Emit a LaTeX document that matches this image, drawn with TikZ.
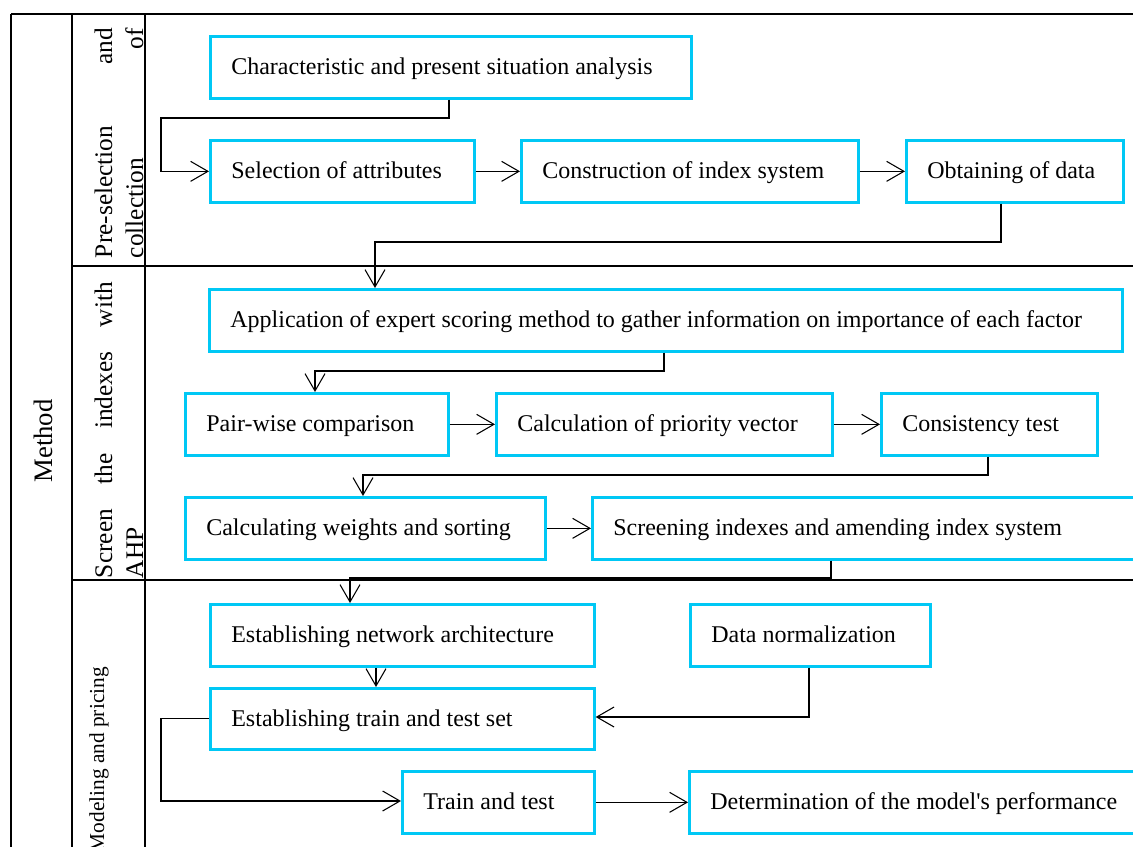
\documentclass[tikz,border=0pt]{standalone}
\usepackage{fontspec}
\setmainfont{Liberation Serif}
\usetikzlibrary{arrows.meta}
\definecolor{boxcyan}{RGB}{0,200,245}
\newlength\upx \setlength\upx{0.75pt}
\newcommand{\bx}[6]{%
  \node[bx, minimum width=#4\upx, minimum height=#5\upx] (#1) at (#2,#3)
    {\makebox[#4\upx][l]{\hspace{21\upx}#6}};}
\begin{document}
\begin{tikzpicture}[x=0.75pt,y=-0.75pt,
  bx/.style={draw=boxcyan, line width=2pt, inner sep=0pt, anchor=north west,
    text height=11.25pt, text depth=0pt,
    font=\fontsize{18}{21}\selectfont},
  conn/.style={draw=black, line width=0.9pt,
    -{Straight Barb[length=13pt,width=15pt,line width=0.8pt]}},
  tbl/.style={line width=2pt},
  lab/.style={rotate=90, inner sep=0pt, anchor=base, font=\fontsize{19}{23}\selectfont}]
\useasboundingbox (0,0) rectangle (1133,847);
\clip (0,0) rectangle (1133,847);
% table
\draw[tbl] (11,14) -- (1133,14);
\draw[tbl] (11,14) -- (11,860);
\draw[tbl] (72,14) -- (72,860);
\draw[tbl] (145,14) -- (145,860);
\draw[tbl] (72,266) -- (1133,266);
\draw[tbl] (72,580) -- (1133,580);
% left labels
\node[lab, font=\fontsize{20}{24}\selectfont] (lmethod) at (52,441) {Method};
\node[lab] (s1a) at (112,143) {\makebox[230\upx]{Pre-selection\hfill and}};
\node[lab] (s1b) at (143,143) {\makebox[230\upx]{collection\hfill of}};
\node[lab] (s2a) at (112,430) {\makebox[296\upx]{Screen\hfill the\hfill indexes\hfill with}};
\node[lab] (s2b) at (143,430) {\makebox[296\upx][l]{AHP}};
\node[lab, anchor=base east, font=\fontsize{16}{19}\selectfont] (s3) at (104,667) {Modeling and pricing};
% boxes
\bx{b1}{209}{35}{481}{62}{Characteristic and present situation analysis}
\bx{b2}{209}{139}{264}{62}{Selection of attributes}
\bx{b3}{520}{139}{337}{62}{Construction of index system}
\bx{b4}{905}{139}{217}{62}{Obtaining of data}
\bx{b5}{208}{288}{913}{62}{Application of expert scoring method to gather information on importance of each factor}
\bx{b6}{184}{392}{263}{62}{Pair-wise comparison}
\bx{b7}{495}{392}{336}{62}{Calculation of priority vector}
\bx{b8}{880}{392}{216}{62}{Consistency test}
\bx{b9}{184}{496}{360}{62}{Calculating weights and sorting}
\bx{b10}{591}{496}{580}{62}{Screening indexes and amending index system}
\bx{b11}{209}{603}{384}{62}{Establishing network architecture}
\bx{b12}{689}{603}{240}{62}{Data normalization}
\bx{b13}{209}{687}{384}{61}{Establishing train and test set}
\bx{b14}{401}{770}{192}{62}{Train and test}
\bx{b15}{688}{770}{480}{62}{Determination of the model\textquotesingle s performance}
% bend points
\coordinate (k1a) at (449,118); \coordinate (k1b) at (161,118);
\coordinate (k4a) at (1001,242); \coordinate (k4b) at (375,242);
\coordinate (k5a) at (664,371); \coordinate (k5b) at (315,371);
\coordinate (k8a) at (988,475); \coordinate (k8b) at (363,475);
\coordinate (k10a) at (831,578); \coordinate (k10b) at (350,578);
\coordinate (k11) at (376,0);
\coordinate (k12) at (809,717);
\coordinate (k13) at (161,801);
% connectors
\draw[conn] (k1a |- b1.south) -- (k1a) -- (k1b) |- (b2.west);
\draw[conn] (b2.east) -- (b3.west);
\draw[conn] (b3.east) -- (b4.west);
\draw[conn] (k4a |- b4.south) -- (k4a) -- (k4b) -- (k4b |- b5.north);
\draw[conn] (k5a |- b5.south) -- (k5a) -- (k5b) -- (k5b |- b6.north);
\draw[conn] (b6.east) -- (b7.west);
\draw[conn] (b7.east) -- (b8.west);
\draw[conn] (k8a |- b8.south) -- (k8a) -- (k8b) -- (k8b |- b9.north);
\draw[conn] (b9.east) -- (b10.west);
\draw[conn] (k10a |- b10.south) -- (k10a) -- (k10b) -- (k10b |- b11.north);
\draw[conn] (k11 |- b11.south) -- (k11 |- b13.north);
\draw[conn] (k12 |- b12.south) -- (k12) -- (k12 -| b13.east);
\draw[conn] (b13.west) -| (k13) -- (k13 -| b14.west);
\draw[conn] (b14.east) -- (b15.west);
\end{tikzpicture}
\end{document}
